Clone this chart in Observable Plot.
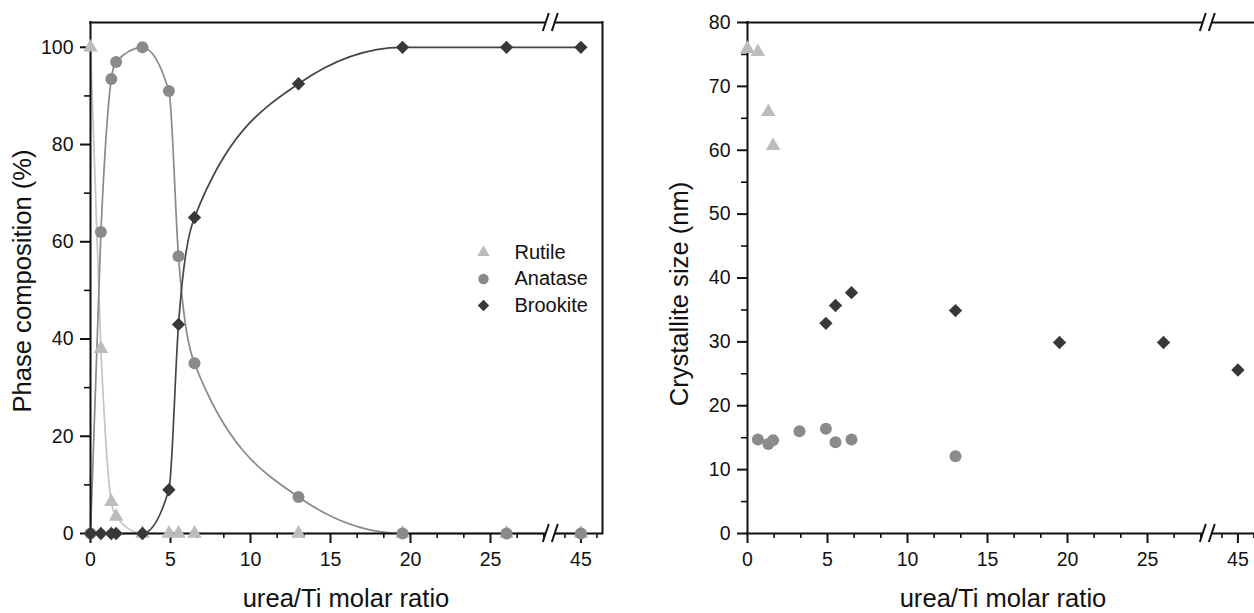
<!DOCTYPE html>
<html><head><meta charset="utf-8">
<script src="https://cdn.jsdelivr.net/npm/d3@7"></script>
<script src="https://cdn.jsdelivr.net/npm/@observablehq/plot@0.6"></script>
<style>
html,body{margin:0;padding:0;background:#fff;overflow:hidden}
#wrap{display:flex;width:1254px;height:613px}
svg{font-family:"Liberation Sans",Arial,sans-serif;display:block}
svg g[aria-label$="tick label"], svg g[aria-label$="tick label"] text{font-size:19.5px !important}
</style></head><body><div id="wrap"></div>
<script>
// ---------- data ----------
const ratios = [0, 0.65, 1.3, 1.6, 3.25, 4.9, 5.5, 6.5, 13, 19.5, 26, 45];
const seriesNames = ["Rutile", "Anatase", "Brookite"];

// phase composition (%)
const rutilePct   = [100, 38, 6.5, 3.5, 0, 0, 0, 0, 0, 0, 0, 0];
const anatasePct  = [0, 62, 93.5, 97, 100, 91, 57, 35, 7.5, 0, 0, 0];
const brookitePct = [0, 0, 0, 0, 0, 9, 43, 65, 92.5, 100, 100, 100];

// crystallite size (nm)
const rutileSize   = [75.9, 75.4, 66, 60.7, null, null, null, null, null, null, null, null];
const anataseSize  = [null, 14.7, 14.0, 14.6, 16.0, 16.4, 14.3, 14.7, 12.1, null, null, null];
const brookiteSize = [null, null, null, null, null, 32.9, 35.7, 37.7, 34.9, 29.9, 29.9, 25.6];

// axis ticks
const xTickLabels = [0, 5, 10, 15, 20, 25, 45];
const xMinorTicks = [5/3, 10/3, 20/3, 25/3, 35/3, 40/3, 50/3, 55/3, 65/3, 70/3, 80/3, 85/3, 44, 46];
const pctTicks = [0, 20, 40, 60, 80, 100];
const pctMinor = [10, 30, 50, 70, 90];
const sizeTicks = [0, 10, 20, 30, 40, 50, 60, 70, 80];
const sizeMinor = [5, 15, 25, 35, 45, 55, 65, 75];

const xTitle = "urea/Ti molar ratio";
const pctTitle = "Phase composition (%)";
const sizeTitle = "Crystallite size (nm)";

// ---------- styles / layout ----------
const fillOf   = {Rutile: "#bcbcbc", Anatase: "#8a8a8a", Brookite: "#383838"};
const lineOf   = {Rutile: "#c4c4c4", Anatase: "#8a8a8a", Brookite: "#454545"};
const symbolOf = {Rutile: "triangle", Anatase: "circle", Brookite: "diamond2"};
const rOf      = {Rutile: 5.4, Anatase: 6, Brookite: 6};
const INK = "#111";
const TICK_FONT = 19.5;

// axis break: values beyond the break are shifted left
const breakPos = 28.8;
const bx = v => v >= 40 ? v - 14.35 : v;

const pctRows = seriesNames.flatMap(s => {
  const arr = {Rutile: rutilePct, Anatase: anatasePct, Brookite: brookitePct}[s];
  return ratios.map((r, i) => ({series: s, ratio: r, value: arr[i]}));
});
const sizeRows = seriesNames.flatMap(s => {
  const arr = {Rutile: rutileSize, Anatase: anataseSize, Brookite: brookiteSize}[s];
  return ratios.map((r, i) => ({series: s, ratio: r, value: arr[i]}));
});

function breakMarks(pos) {
  return (index, scales, values, dims) => {
    const g = d3.create("svg:g");
    const cx = scales.x(pos);
    for (const cy of [dims.marginTop, dims.height - dims.marginBottom]) {
      g.append("rect").attr("x", cx - 5).attr("y", cy - 2.5).attr("width", 9).attr("height", 5).attr("fill", "white");
      for (const off of [-5, 4]) {
        g.append("line")
          .attr("x1", cx + off - 3).attr("y1", cy + 9)
          .attr("x2", cx + off + 3).attr("y2", cy - 9)
          .attr("stroke", INK).attr("stroke-width", 2);
      }
    }
    return g.node();
  };
}

const xLabelMap = new Map(xTickLabels.map(v => [bx(v), String(v)]));

function axesMarks(yTicks, yMinor, xDomain, yDomain, rightFrame) {
  const m = [
    Plot.axisX({ticks: xTickLabels.map(bx), tickSize: 10, tickPadding: 9, tickFormat: d => xLabelMap.get(d),
      fontSize: TICK_FONT, stroke: INK, strokeWidth: 2, fill: INK, label: null}),
    Plot.axisX({ticks: xMinorTicks.map(bx), tickSize: 5, tickFormat: () => "", stroke: INK, strokeWidth: 1.6, label: null}),
    Plot.axisY({ticks: yTicks, tickSize: 10, tickPadding: 7, fontSize: TICK_FONT, stroke: INK, strokeWidth: 2, fill: INK, label: null}),
    Plot.axisY({ticks: yMinor, tickSize: 6, tickFormat: () => "", stroke: INK, strokeWidth: 1.6, label: null}),
    Plot.ruleX([xDomain[0]], {stroke: INK, strokeWidth: 2, strokeLinecap: "square"}),
    Plot.ruleY([yDomain[0]], {stroke: INK, strokeWidth: 2, strokeLinecap: "square"}),
    Plot.ruleY([yDomain[1]], {stroke: INK, strokeWidth: 2, strokeLinecap: "square"})
  ];
  if (rightFrame) m.push(Plot.ruleX([xDomain[1]], {stroke: INK, strokeWidth: 2, strokeLinecap: "square"}));
  m.push(breakMarks(breakPos));
  return m;
}

function seriesDots(rows) {
  return seriesNames.map(s => Plot.dot(rows.filter(d => d.series === s), {
    x: d => bx(d.ratio), y: "value", symbol: symbolOf[s], fill: fillOf[s], r: rOf[s]
  }));
}

const plotStyle = {fontFamily: '"Liberation Sans", Arial, sans-serif', fontSize: TICK_FONT + "px", color: INK, background: "white"};

// ---------- left panel ----------
const leftX = [0, 32], leftY = [0, 105.1];
const left = Plot.plot({
  width: 627, height: 613,
  marginLeft: 90, marginRight: 25, marginTop: 22, marginBottom: 80,
  x: {domain: leftX}, y: {domain: leftY},
  style: plotStyle,
  marks: [
    ...seriesNames.map(s => Plot.line(pctRows.filter(d => d.series === s), {
      x: d => bx(d.ratio), y: "value", curve: "monotone-x", stroke: lineOf[s], strokeWidth: 1.7
    })),
    ...axesMarks(pctTicks, pctMinor, leftX, leftY, true),
    ...seriesDots(pctRows),
    ...seriesNames.map((s, i) => Plot.dot([s], {
      frameAnchor: "top-left", dx: 393, dy: 230 + i * 26.5, symbol: symbolOf[s], fill: fillOf[s], r: rOf[s] - 0.8
    })),
    ...seriesNames.map((s, i) => Plot.text([s], {
      frameAnchor: "top-left", dx: 424, dy: 230 + i * 26.5, text: d => d, textAnchor: "start",
      lineAnchor: "middle", fontSize: 20, fill: INK
    }))
  ]
});

// ---------- right panel ----------
const rightX = [0, 507 / 16], rightY = [0, 80];
const right = Plot.plot({
  width: 627, height: 613,
  marginLeft: 120, marginRight: 0, marginTop: 22, marginBottom: 80,
  x: {domain: rightX}, y: {domain: rightY},
  style: plotStyle,
  marks: [
    ...axesMarks(sizeTicks, sizeMinor, rightX, rightY, false),
    ...seriesDots(sizeRows)
  ]
});

function addTitles(svg, xCenter, yLabelText, yLabelX, yCenter) {
  const s = d3.select(svg);
  s.append("text").attr("x", xCenter).attr("y", 607).attr("text-anchor", "middle")
    .attr("font-size", 25.6).attr("fill", INK).text(xTitle);
  s.append("text").attr("transform", `translate(${yLabelX},${yCenter}) rotate(-90)`)
    .attr("text-anchor", "middle").attr("font-size", 25.6).attr("fill", INK).text(yLabelText);
}
addTitles(left, 346, pctTitle, 31, 281);
addTitles(right, 1003 - 627, sizeTitle, 688 - 627, 294);

document.getElementById("wrap").append(left, right);
</script></body></html>
